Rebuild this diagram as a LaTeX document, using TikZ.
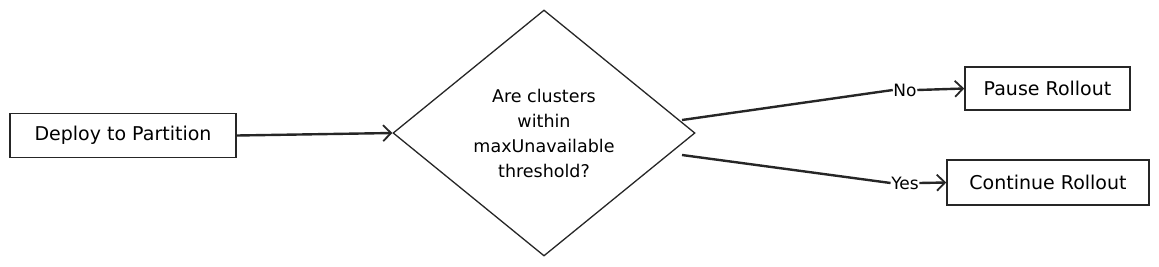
\documentclass[tikz,border=0pt]{standalone}
\usepackage{fontspec}
\setmainfont{DejaVu Sans}
\usetikzlibrary{shapes.geometric,arrows.meta}
\begin{document}
\begin{tikzpicture}[x=1pt,y=-1pt,
  box/.style={draw=black!85,line width=1.6pt,minimum height=44pt,inner sep=0pt,font=\fontsize{19}{22}\selectfont},
  conn/.style={draw=black!85,line width=2.4pt,-{Straight Barb[length=8pt,width=16pt,line width=1.8pt]}},
  plain/.style={draw=black!85,line width=2.4pt},
  lbl/.style={inner sep=0.5pt,font=\fontsize{17}{19}\selectfont}]
\useasboundingbox (0,0) rectangle (1159,266);
\node[box,minimum width=226pt] (deploy) at (123,135.5) {Deploy to Partition};
\node[draw=black!85,line width=1.3pt,diamond,minimum width=302pt,minimum height=246pt,inner sep=0pt] (dec) at (544,133) {};
\node[font=\fontsize{17.5}{25}\selectfont,align=center] (q) at (544,133) {Are clusters\\within\\maxUnavailable\\threshold?};
\node[box,minimum width=165pt,minimum height=43pt] (pause) at (1047.5,88.5) {Pause Rollout};
\node[box,minimum width=202pt,minimum height=45pt] (cont) at (1048,182.5) {Continue Rollout};
\coordinate (noStart) at (682,120);
\coordinate (yesStart) at (682,155);
\node[lbl] (no) at (905,90) {No};
\node[lbl] (yes) at (905,183) {Yes};
\draw[conn] (deploy.east) -- (dec.west);
\draw[plain] (noStart) -- (no.west);
\draw[conn] (no.east) -- (pause.west);
\draw[plain] (yesStart) -- (yes.west);
\draw[conn] (yes.east) -- (cont.west);
\end{tikzpicture}
\end{document}
